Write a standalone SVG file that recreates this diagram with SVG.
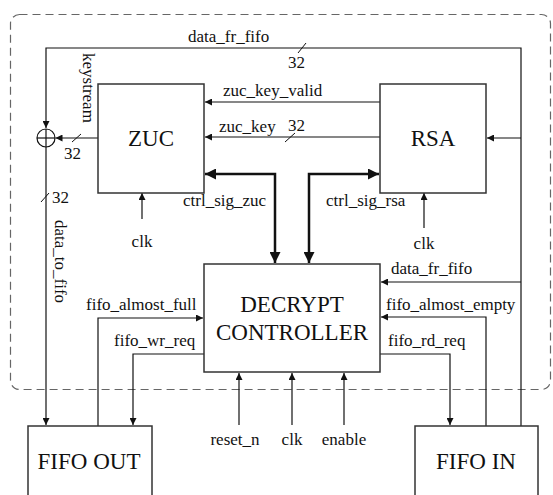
<svg xmlns="http://www.w3.org/2000/svg" width="553" height="495" viewBox="0 0 553 495" font-family="'Liberation Serif', 'Times New Roman', Times, serif">
  <style>
    text { font-family: 'Liberation Serif', 'Times New Roman', Times, serif; fill: #111; }
    .lbl { font-size: 17px; }
    .big { font-size: 23px; text-anchor: middle; }
    .box { fill: #fff; stroke: #333; stroke-width: 1.5; }
    .wire { fill: none; stroke: #111; stroke-width: 1.2; }
    .bus { fill: none; stroke: #111; stroke-width: 2.5; }
    .tick { stroke: #111; stroke-width: 1; }
  </style>
  <defs>
    <marker id="arr" viewBox="0 0 10 10" refX="10" refY="5" markerWidth="8" markerHeight="7" markerUnits="userSpaceOnUse" orient="auto-start-reverse">
      <path d="M0,0 L10,5 L0,10 z" fill="#111"/>
    </marker>
    <marker id="arrBus" viewBox="0 0 10 10" refX="10" refY="5" markerWidth="12" markerHeight="11" markerUnits="userSpaceOnUse" orient="auto-start-reverse">
      <path d="M0,0 L10,5 L0,10 z" fill="#111"/>
    </marker>
  </defs>

  <!-- module boundary -->
  <g id="boundary">
    <rect x="10.5" y="14.5" width="540" height="375" rx="9" fill="none" stroke="#666" stroke-width="1.2" stroke-dasharray="8,5"/>
  </g>

  <!-- connectors -->
  <g id="connectors">
    <!-- data_fr_fifo bus across the top, down to the XOR -->
    <polyline class="wire" points="521,426 521,48 46,48 46,128" marker-end="url(#arr)"/>
    <!-- XOR output to FIFO OUT -->
    <line class="wire" x1="46" y1="147" x2="46" y2="425" marker-end="url(#arr)"/>
    <!-- keystream -->
    <line class="wire" x1="98" y1="138" x2="55.5" y2="138" marker-end="url(#arr)"/>
    <!-- RSA -> ZUC -->
    <line class="wire" x1="380" y1="102" x2="205" y2="102" marker-end="url(#arr)"/>
    <line class="wire" x1="380" y1="137" x2="205" y2="137" marker-end="url(#arr)"/>
    <!-- data_fr_fifo into RSA -->
    <line class="wire" x1="521" y1="138" x2="487" y2="138" marker-end="url(#arr)"/>
    <!-- control buses -->
    <polyline class="bus" points="275,263 275,174 205,174" marker-start="url(#arrBus)" marker-end="url(#arrBus)"/>
    <polyline class="bus" points="309,263 309,174 379,174" marker-start="url(#arrBus)" marker-end="url(#arrBus)"/>
    <!-- clocks -->
    <line class="wire" x1="142" y1="219" x2="142" y2="193" marker-end="url(#arr)"/>
    <line class="wire" x1="424" y1="228" x2="424" y2="193" marker-end="url(#arr)"/>
    <!-- controller right side -->
    <line class="wire" x1="521" y1="282" x2="381" y2="282" marker-end="url(#arr)"/>
    <polyline class="wire" points="486,426 486,317 381,317" marker-end="url(#arr)"/>
    <polyline class="wire" points="380,354 450,354 450,425" marker-end="url(#arr)"/>
    <!-- controller left side -->
    <polyline class="wire" points="98,426 98,318 203,318" marker-end="url(#arr)"/>
    <polyline class="wire" points="204,354 133,354 133,425" marker-end="url(#arr)"/>
    <!-- controller bottom inputs -->
    <line class="wire" x1="239" y1="425" x2="239" y2="373" marker-end="url(#arr)"/>
    <line class="wire" x1="292" y1="425" x2="292" y2="373" marker-end="url(#arr)"/>
    <line class="wire" x1="344" y1="425" x2="344" y2="373" marker-end="url(#arr)"/>
    <!-- bus width ticks -->
    <line class="tick" x1="298" y1="53" x2="306" y2="43"/>
    <line class="tick" x1="285" y1="142" x2="295" y2="133"/>
    <line class="tick" x1="72" y1="142" x2="81" y2="134"/>
    <line class="tick" x1="41" y1="202" x2="49" y2="193"/>
    <!-- connector labels -->
    <text class="lbl" x="188" y="42">data_fr_fifo</text>
    <text class="lbl" x="288" y="68">32</text>
    <text class="lbl" x="223" y="96">zuc_key_valid</text>
    <text class="lbl" x="219" y="132">zuc_key</text>
    <text class="lbl" x="288" y="131">32</text>
    <text class="lbl" x="64" y="159">32</text>
    <text class="lbl" x="52" y="203">32</text>
    <text class="lbl" transform="translate(83,53) rotate(90)">keystream</text>
    <text class="lbl" transform="translate(55,220) rotate(90)">data_to_fifo</text>
    <text class="lbl" x="183" y="206">ctrl_sig_zuc</text>
    <text class="lbl" x="326" y="206">ctrl_sig_rsa</text>
    <text class="lbl" x="142" y="247" text-anchor="middle">clk</text>
    <text class="lbl" x="424" y="249" text-anchor="middle">clk</text>
    <text class="lbl" x="391" y="274">data_fr_fifo</text>
    <text class="lbl" x="386" y="310">fifo_almost_empty</text>
    <text class="lbl" x="388" y="346">fifo_rd_req</text>
    <text class="lbl" x="86" y="310">fifo_almost_full</text>
    <text class="lbl" x="114" y="346">fifo_wr_req</text>
    <text class="lbl" x="235" y="445" text-anchor="middle">reset_n</text>
    <text class="lbl" x="292" y="445" text-anchor="middle">clk</text>
    <text class="lbl" x="344" y="445" text-anchor="middle">enable</text>
  </g>

  <!-- XOR combiner -->
  <g id="xor">
    <circle cx="46" cy="138" r="9" fill="none" stroke="#111" stroke-width="1.2"/>
    <line x1="37" y1="138" x2="55" y2="138" stroke="#111" stroke-width="1.2"/>
    <line x1="46" y1="129" x2="46" y2="147" stroke="#111" stroke-width="1.2"/>
  </g>

  <g id="zuc">
    <rect class="box" x="98" y="84" width="106" height="109"/>
    <text class="big" x="151" y="146">ZUC</text>
  </g>

  <g id="rsa">
    <rect class="box" x="380" y="84" width="106" height="109"/>
    <text class="big" x="433" y="146">RSA</text>
  </g>

  <g id="controller">
    <rect class="box" x="204" y="264" width="176" height="108"/>
    <text class="big" x="292" y="312">DECRYPT</text>
    <text class="big" x="292" y="340">CONTROLLER</text>
  </g>

  <g id="fifo_out">
    <rect class="box" x="28" y="426" width="124" height="80"/>
    <text class="big" x="89" y="469">FIFO OUT</text>
  </g>

  <g id="fifo_in">
    <rect class="box" x="415" y="426" width="123" height="80"/>
    <text class="big" x="476" y="469">FIFO IN</text>
  </g>
</svg>
